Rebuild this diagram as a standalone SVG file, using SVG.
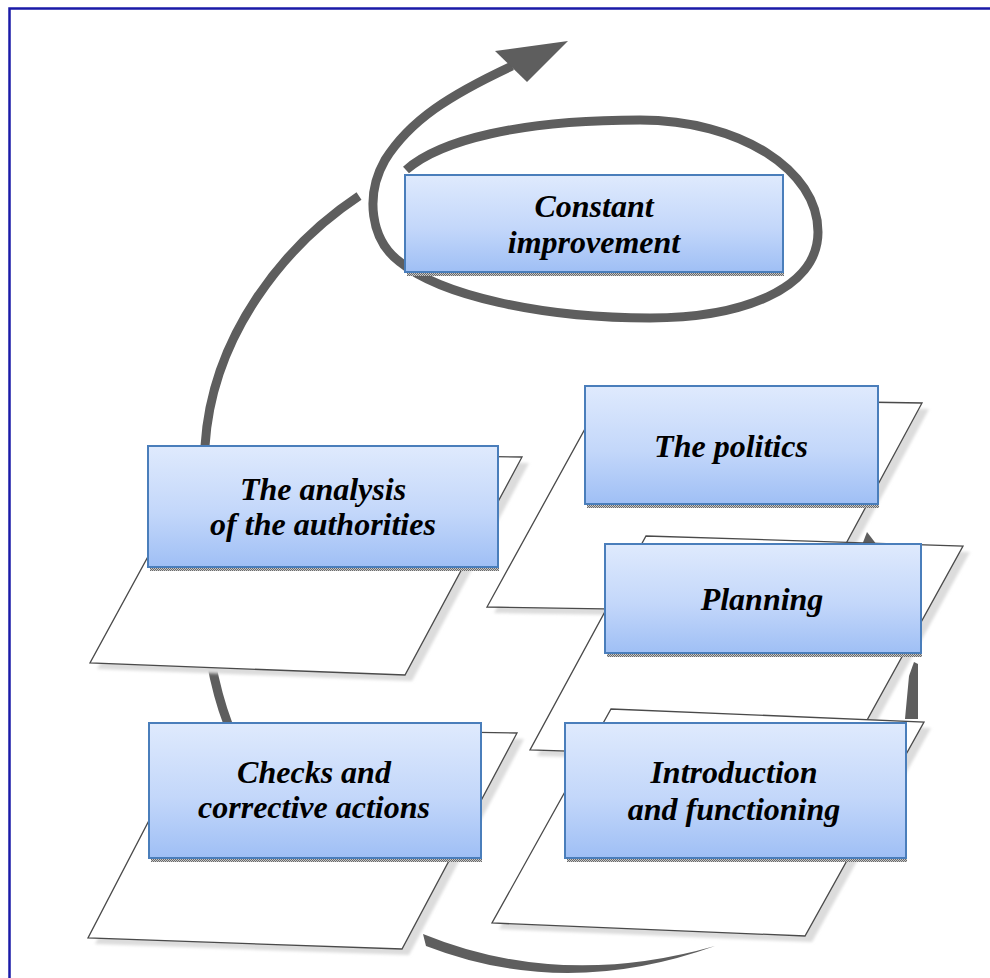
<svg xmlns="http://www.w3.org/2000/svg" width="990" height="978" viewBox="0 0 990 978">
<defs>
<linearGradient id="boxGrad" x1="0" y1="0" x2="0" y2="1">
<stop offset="0" stop-color="#dfeafd"/>
<stop offset="0.55" stop-color="#c3d7fa"/>
<stop offset="1" stop-color="#9fbff5"/>
</linearGradient>
<pattern id="dots" width="2" height="2" patternUnits="userSpaceOnUse">
<rect width="2" height="2" fill="#c8c8c8"/>
<rect width="1" height="1" fill="#6a6a6a"/>
<rect x="1" y="1" width="1" height="1" fill="#6a6a6a"/>
</pattern>
<filter id="soft" x="-10%" y="-10%" width="120%" height="120%">
<feGaussianBlur stdDeviation="1.6"/>
</filter>
</defs>
<style>
.frame{fill:none;stroke:#1a1aa8;stroke-width:2.5}
.arc{fill:none;stroke:#5e5e5e;stroke-width:9}
.head{fill:#5e5e5e}
.plane{fill:#ffffff;stroke:#4a4a4a;stroke-width:1.3;stroke-linejoin:miter}
.planeShadow{fill:#dcdcdc;filter:url(#soft)}
.box{fill:url(#boxGrad);stroke:#4a7ebb;stroke-width:2}
.boxShadow{fill:url(#dots)}
.label{font-family:"Liberation Serif","Times New Roman",serif;font-size:32px;font-weight:bold;font-style:italic;fill:#000;text-anchor:middle}
</style>
<rect x="0" y="0" width="990" height="978" fill="#ffffff"/>
<path class="frame" d="M9.5,978 V8.5 H990"/>

<g id="connectors">
<path class="arc" d="M406,170 C440,140 520,120 640,120 C740,120 818,170 818,232 C818,290 740,318 650,318 C540,318 440,295 400,262 C370,240 365,195 385,160 C410,120 450,95 512,66"/>
<polygon class="head" points="495,51 568,41 527,82"/>
<path class="arc" stroke-width="8.5" d="M359,196 C285,245 212,335 205,446 C200,530 196,640 228,724"/>
<path class="head" d="M423,934 Q560,990 715,946 Q565,1000 426,946 Z"/>
<polygon class="head" points="905,719 918,719 918,664 914,662 909,676"/>
<polygon class="head" points="862,545 867,532 877,545"/>
</g>

<g id="node-analysis">
<polygon class="planeShadow" points="212,458 529,463 412,681 97,669"/>
<polygon class="plane" points="205,452 522,457 405,675 90,663"/>
<rect class="boxShadow" x="150" y="567" width="349" height="4"/>
<rect class="box" x="148" y="446" width="350" height="121"/>
<text class="label" x="323" y="500">The analysis</text>
<text class="label" x="323" y="535">of the authorities</text>
</g>

<g id="node-politics">
<polygon class="planeShadow" points="609,404 929,409 816,618 494,613"/>
<polygon class="plane" points="602,398 922,403 809,612 487,607"/>
<rect class="boxShadow" x="587" y="504" width="292" height="4"/>
<rect class="box" x="585" y="386" width="293" height="118"/>
<text class="label" x="731" y="457">The politics</text>
</g>

<g id="node-planning">
<polygon class="planeShadow" points="653,542 970,552 852,766 537,756"/>
<polygon class="plane" points="646,536 963,546 845,760 530,750"/>
<rect class="boxShadow" x="607" y="653" width="315" height="4"/>
<rect class="box" x="605" y="544" width="316" height="109"/>
<text class="label" x="762" y="610">Planning</text>
</g>

<g id="node-introduction">
<polygon class="planeShadow" points="618,715 931,728 812,942 499,929"/>
<polygon class="plane" points="611,709 924,722 805,936 492,923"/>
<rect class="boxShadow" x="567" y="858" width="340" height="4"/>
<rect class="box" x="565" y="723" width="341" height="135"/>
<text class="label" x="734" y="783">Introduction</text>
<text class="label" x="734" y="820">and functioning</text>
</g>

<g id="node-checks">
<polygon class="planeShadow" points="204,734 524,739 409,955 95,944"/>
<polygon class="plane" points="197,728 517,733 402,949 88,938"/>
<rect class="boxShadow" x="151" y="858" width="331" height="4"/>
<rect class="box" x="149" y="723" width="332" height="135"/>
<text class="label" x="314" y="783">Checks and</text>
<text class="label" x="314" y="818">corrective actions</text>
</g>

<g id="node-constant">
<rect class="boxShadow" x="407" y="272" width="377" height="4"/>
<rect class="box" x="405" y="175" width="378" height="97"/>
<text class="label" x="594" y="217">Constant</text>
<text class="label" x="594" y="253">improvement</text>
</g>
</svg>
